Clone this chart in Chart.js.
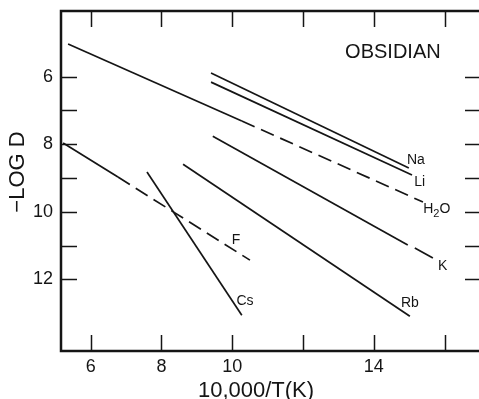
<!DOCTYPE html>
<html>
<head>
<meta charset="utf-8">
<script src="https://cdn.jsdelivr.net/npm/chart.js@4"></script>
<style>
  html, body { margin: 0; padding: 0; background: #fff; overflow: hidden; }
  #wrap { width: 484px; height: 399px; }
</style>
</head>
<body>
<div id="wrap"><canvas id="obsidianChart" width="484" height="399"></canvas></div>
<script>
'use strict';

// osie
const xTicks = [6, 8, 10, 14];
const xTickMarks = [6, 8, 10, 12, 14, 16];
const yTicks = [6, 8, 10, 12];
const yTickMarks = [6, 7, 8, 9, 10, 11, 12];

// linie (10,000/T , -log D)
const naX = [9.40, 14.99];
const naY = [5.89, 8.70];
const liX = [9.40, 15.08];
const liY = [6.16, 8.91];
const h2oX = [5.36, 10.27, 15.39];
const h2oY = [5.03, 7.31, 9.71];
const kX = [9.45, 14.96, 15.06, 15.16, 15.67];
const kY = [7.76, 10.98, null, 11.07, 11.37];
const rbX = [8.61, 15.02];
const rbY = [8.59, 13.09];
const fX = [5.22, 6.77, 10.50];
const fY = [7.96, 8.97, 11.43];
const csX = [7.59, 10.27];
const csY = [8.82, 13.06];

// podpisy linii
const labelText = ['Na', 'Li', 'H2O', 'K', 'F', 'Cs', 'Rb'];
const labelX = [15.19, 15.30, 15.78, 15.95, 10.11, 10.36, 15.02];
const labelY = [8.47, 9.12, 9.98, 11.61, 10.84, 12.64, 12.70];

const ink = '#151515';
const fontFamily = '"Liberation Sans", Arial, Helvetica, sans-serif';

function points(xs, ys) {
  return xs.map(function (x, i) { return { x: x, y: ys[i] }; });
}

// linia ciagla, od indeksu dashFrom przerywana
function series(xs, ys, dashFrom) {
  return {
    data: points(xs, ys),
    showLine: true,
    borderColor: ink,
    borderWidth: 1.7,
    pointRadius: 0,
    spanGaps: false,
    segment: {
      borderDash: function (ctx) {
        return (dashFrom !== undefined && ctx.p0DataIndex >= dashFrom) ? [14, 7] : undefined;
      }
    }
  };
}

// bez dodatkowych marginesow od etykiet
function fixPadding(scale) {
  scale.paddingTop = 0;
  scale.paddingBottom = 0;
  scale.paddingLeft = 0;
  scale.paddingRight = 0;
}

// ramka, kreski do srodka, napisy
const framePlugin = {
  id: 'frame',
  afterDraw(chart) {
    const c = chart.ctx;
    const a = chart.chartArea;
    const sx = chart.scales.x;
    const sy = chart.scales.y;
    const tick = 16;

    c.save();
    c.strokeStyle = ink;
    c.lineWidth = 1.5;
    c.beginPath();
    xTickMarks.forEach(function (v) {
      const px = Math.round(sx.getPixelForValue(v)) + 0.5;
      c.moveTo(px, a.bottom); c.lineTo(px, a.bottom - tick);
      c.moveTo(px, a.top); c.lineTo(px, a.top + tick);
    });
    yTickMarks.forEach(function (v) {
      const py = Math.round(sy.getPixelForValue(v)) + 0.5;
      c.moveTo(a.left, py); c.lineTo(a.left + tick, py);
      c.moveTo(a.right, py); c.lineTo(a.right - tick, py);
    });
    c.stroke();

    c.lineWidth = 2.5;
    c.beginPath();
    c.moveTo(a.left, a.top);
    c.lineTo(a.left, a.bottom);
    c.lineTo(a.right, a.bottom);
    c.lineTo(a.right, a.top);
    c.closePath();
    c.stroke();

    c.fillStyle = ink;
    c.textAlign = 'center';
    c.textBaseline = 'middle';

    // podpisy linii
    c.font = '14px ' + fontFamily;
    labelText.forEach(function (t, i) {
      const px = sx.getPixelForValue(labelX[i]);
      const py = sy.getPixelForValue(labelY[i]);
      if (t === 'H2O') {
        const wH = c.measureText('H').width;
        c.font = '11px ' + fontFamily;
        const w2 = c.measureText('2').width;
        c.font = '14px ' + fontFamily;
        const wO = c.measureText('O').width;
        let x0 = px - (wH + w2 + wO) / 2;
        c.textAlign = 'left';
        c.fillText('H', x0, py - 2);
        c.font = '11px ' + fontFamily;
        c.fillText('2', x0 + wH, py + 3);
        c.font = '14px ' + fontFamily;
        c.fillText('O', x0 + wH + w2, py - 2);
        c.textAlign = 'center';
      } else {
        c.fillText(t, px, py);
      }
    });

    c.font = '20px ' + fontFamily;
    c.fillText('OBSIDIAN', sx.getPixelForValue(14.54), sy.getPixelForValue(5.27));

    // tytuly osi
    c.font = '22px ' + fontFamily;
    c.fillText('10,000/T(K)', 256, 391);
    c.translate(18, 172);
    c.rotate(-Math.PI / 2);
    c.fillText('\u2212LOG D', 0, 0);
    c.restore();
  }
};

const ctx = document.getElementById('obsidianChart').getContext('2d');

const chart = new Chart(ctx, {
  type: 'scatter',
  data: {
    datasets: [
      series(naX, naY),
      series(liX, liY),
      series(h2oX, h2oY, 1),
      series(kX, kY),
      series(rbX, rbY),
      series(fX, fY, 1),
      series(csX, csY)
    ]
  },
  options: {
    responsive: false,
    animation: false,
    events: [],
    layout: { padding: { top: 11, right: 3, left: 0, bottom: 0 } },
    plugins: { legend: { display: false }, tooltip: { enabled: false } },
    scales: {
      x: {
        type: 'linear',
        min: 5.16,
        max: 17.03,
        afterFit: function (scale) { scale.height = 48; fixPadding(scale); },
        afterBuildTicks: function (scale) {
          scale.ticks = xTicks.map(function (v) { return { value: v }; });
        },
        grid: { display: false, drawTicks: false },
        border: { display: false },
        ticks: {
          autoSkip: false,
          maxRotation: 0,
          padding: 5,
          color: ink,
          font: { family: fontFamily, size: 18 }
        }
      },
      y: {
        type: 'linear',
        reverse: true,
        min: 4.055,
        max: 14.12,
        afterFit: function (scale) { scale.width = 61; fixPadding(scale); },
        afterBuildTicks: function (scale) {
          scale.ticks = yTicks.map(function (v) { return { value: v }; });
        },
        grid: { display: false, drawTicks: false },
        border: { display: false },
        ticks: {
          autoSkip: false,
          padding: 8,
          color: ink,
          font: { family: fontFamily, size: 18 }
        }
      }
    }
  },
  plugins: [framePlugin]
});

console.log(chart);
</script>
</body>
</html>
